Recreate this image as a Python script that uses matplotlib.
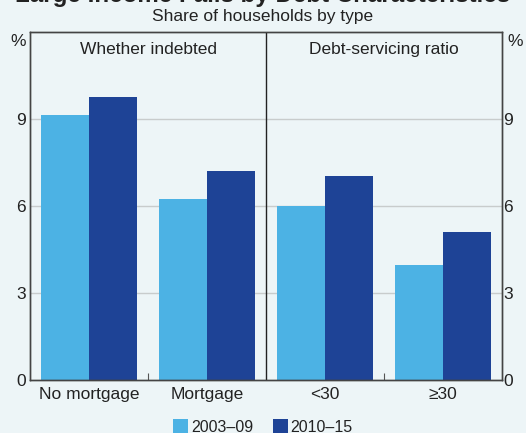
import matplotlib
matplotlib.use("Agg")
import matplotlib.pyplot as plt
import numpy as np

plt.rcParams["font.family"] = ["Liberation Sans", "DejaVu Sans"]

categories = ["No mortgage", "Mortgage", "<30", "≥30"]
panels = ["Whether indebted", "Debt-servicing ratio"]
series_names = ["2003–09", "2010–15"]
early = [9.15, 6.25, 6.0, 3.95]
late = [9.75, 7.2, 7.05, 5.1]
yticks = [0, 3, 6, 9]

bg = "#edf5f7"
light = "#4cb2e4"
dark = "#1e4396"
txt = "#222222"
fs = 12.5

fig = plt.figure(figsize=(5.26, 4.33), dpi=100, facecolor=bg)
ax = fig.add_axes([30/526, 53/433, 472/526, 348/433])
ax.set_facecolor(bg)

x = np.arange(len(categories)) + 0.5
w = 0.41
ax.bar(x - w/2, early, w, color=light, zorder=2, label=series_names[0])
ax.bar(x + w/2, late, w, color=dark, zorder=2, label=series_names[1])

ax.set_xlim(0, 4)
ax.set_ylim(0, 12)
ax.axvline(2, color=txt, lw=1, zorder=3)
for v in yticks[1:]:
    ax.axhline(v, color="#c8cccc", lw=1, zorder=1)

ax.set_xticks([1, 3])
ax.set_xticklabels([])
ax.tick_params(axis="x", direction="in", length=5, color="#555555")
ax.set_yticks(yticks)
ax.tick_params(axis="y", length=0, labelsize=fs, labelcolor=txt, pad=3)

ax2 = ax.twinx()
ax2.set_ylim(0, 12)
ax2.set_yticks(yticks)
ax2.tick_params(axis="y", length=0, labelsize=fs, labelcolor=txt, pad=1)

for a in (ax, ax2):
    for s in a.spines.values():
        s.set_color("#444444")
        s.set_linewidth(1)

for xi, lab in zip(x, categories):
    ax.text(xi, -0.25, lab, ha="center", va="top", fontsize=fs, color=txt)
for xi, lab in zip([1, 3], panels):
    ax.text(xi, 11.4, lab, ha="center", va="center", fontsize=fs, color=txt)

fig.text(18/526, 1 - 41/433, "%", ha="center", va="center", fontsize=fs, color=txt)
fig.text(515/526, 1 - 41/433, "%", ha="center", va="center", fontsize=fs, color=txt)

fig.text(0.5, 1 - 17/433, "Share of households by type", ha="center", va="center",
         fontsize=fs, color=txt)
fig.text(0.5, 1 - 2/433, "Large Income Falls by Debt Characteristics", ha="center",
         va="baseline", fontsize=17.4, fontweight="bold", color=txt)

fig.legend(loc="center", bbox_to_anchor=(0.5, 1 - 427/433), ncol=2, frameon=False,
           fontsize=11.5, handlelength=0.95, handleheight=0.95, handletextpad=0.15,
           columnspacing=1.25, labelcolor=txt)

fig.savefig("out.png", dpi=100, facecolor=bg)
